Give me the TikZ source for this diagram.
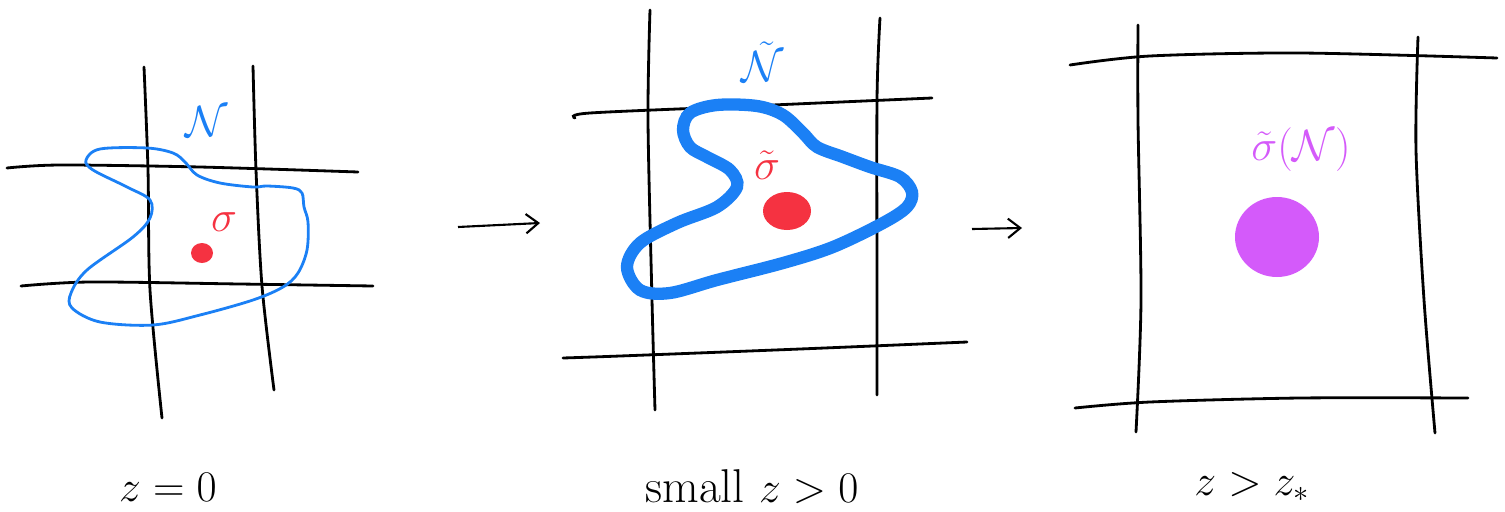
\documentclass[tikz,border=0pt]{standalone}
\usepackage{amsmath}
\usetikzlibrary{arrows.meta}
\definecolor{nbhdblue}{RGB}{27,128,245}
\definecolor{ptred}{RGB}{245,50,65}
\definecolor{limpurple}{RGB}{212,90,250}
\tikzset{
  gridline/.style={black,line width=1.6pt,line cap=round},
  nbhd/.style={nbhdblue,line width=1.6pt},
  flowarrow/.style={black,line width=1.2pt,-{Straight Barb[length=7pt,width=11pt]}}
}

\begin{document}
\begin{tikzpicture}[x=0.02cm,y=-0.02cm,font=\fontsize{27}{29}\selectfont]
\useasboundingbox (0,0) rectangle (1505,511);
% z = 0
\draw[gridline] plot[smooth] coordinates {(144,67) (148,170) (150,290) (162,418)};
\draw[gridline] plot[smooth] coordinates {(253,66) (256,170) (262,286) (274,390)};
\draw[gridline] plot[smooth] coordinates {(7,168) (60,165) (200,167) (358,172)};
\draw[gridline] plot[smooth] coordinates {(21,286) (90,282) (240,284) (373,286)};
\draw[nbhd] plot[smooth cycle,tension=0.55] coordinates {(86,160) (100,149) (147,148) (173,153)
  (185,162) (197,175) (220,183) (253,187) (267,186) (293,188) (302,193) (304,207) (308,222)
  (307,250) (298,273) (283,287) (253,300) (200,315) (153,325) (100,322) (72,308) (71,293)
  (87,270) (133,237) (150,218) (150,200) (127,187) (93,170)};
\node[text=nbhdblue] (nlab) at (207,122) {$\mathcal{N}$};
\node[text=ptred] (slab) at (224,222) {$\sigma$};
\fill[ptred] (202,253) ellipse [x radius=11,y radius=10];
\node (lab1) at (168,487) {$z=0$};
% small z > 0
\draw[gridline] plot[smooth] coordinates {(650,10) (648,120) (652,300) (655,410)};
\draw[gridline] plot[smooth] coordinates {(880,18) (877,100) (877,300) (877,395)};
\draw[gridline] plot[smooth] coordinates {(575,118) (590,113) (750,106) (932,98)};
\draw[gridline] plot[smooth] coordinates {(563,358) (620,356) (800,349) (967,342)};
\draw[nbhd,line width=7pt] plot[smooth cycle,tension=0.55] coordinates {(690,113) (717,105)
  (757,106) (783,115) (803,133) (817,147) (843,157) (870,167) (900,177) (912,192) (907,207)
  (883,223) (833,247) (783,263) (717,280) (670,293) (640,290) (627,267) (640,243) (677,223)
  (717,207) (737,187) (730,170) (707,157) (690,147) (683,130)};
\node[text=nbhdblue] (ntlab) at (763,62) {$\tilde{\mathcal{N}}$};
\node[text=ptred] (stlab) at (767,165) {$\tilde{\sigma}$};
\fill[ptred] (787,211) ellipse [x radius=24,y radius=19];
\node (lab2) at (752,487) {small $z>0$};
% z > z_*
\draw[gridline] plot[smooth] coordinates {(1138,25) (1138,120) (1141,300) (1136,432)};
\draw[gridline] plot[smooth] coordinates {(1418,37) (1416,150) (1424,300) (1435,433)};
\draw[gridline] plot[smooth] coordinates {(1070,65) (1150,56) (1300,53) (1497,58)};
\draw[gridline] plot[smooth] coordinates {(1075,408) (1150,402) (1300,398) (1468,398)};
\node[text=limpurple] (sNlab) at (1301,150) {$\tilde{\sigma}(\mathcal{N})$};
\fill[limpurple] (1277,237) ellipse [x radius=42,y radius=40];
\node (lab3) at (1252,487) {$z>z_*$};
% arrows
\coordinate (a1s) at (458,227);
\coordinate (a1e) at (540,223);
\coordinate (a2s) at (972,229);
\coordinate (a2e) at (1022,228);
\draw[flowarrow] (a1s) -- (a1e);
\draw[flowarrow] (a2s) -- (a2e);
\end{tikzpicture}
\end{document}
